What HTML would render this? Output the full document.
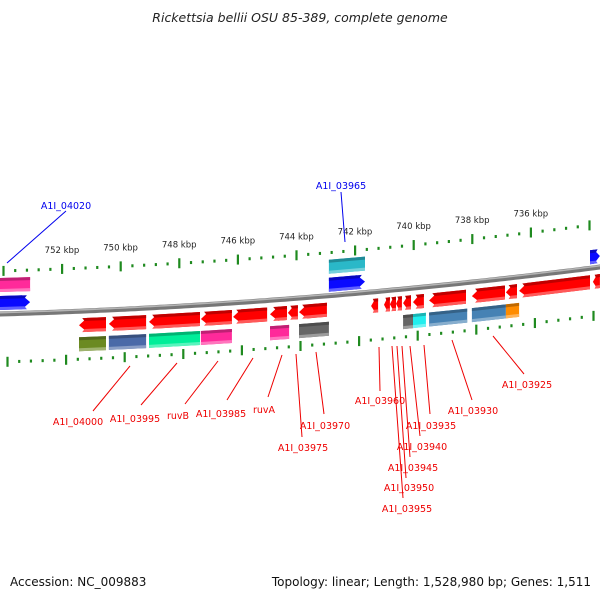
<!DOCTYPE html>
<html><head><meta charset="utf-8"><style>
body{margin:0;background:#fff}
svg{display:block}
text{font-family:"DejaVu Sans","Liberation Sans",sans-serif}
</style></head><body>
<svg id="map" width="600" height="600" viewBox="0 0 600 600">
<text x="300" y="22" text-anchor="middle" font-size="12.5" font-style="italic" fill="#222">Rickettsia bellii OSU 85-389, complete genome</text>
<text x="10" y="586" font-size="12" fill="#111">Accession: NC_009883</text>
<text x="591" y="586" text-anchor="end" font-size="12" fill="#111">Topology: linear; Length: 1,528,980 bp; Genes: 1,511</text>
<g id="g"></g>
</svg>
<script>
// kbp tick labels
const tickKbp = [754,752,750,748,746,744,742,740,738,736,734];
// genes: start kbp, end kbp, strand (1 forward, -1 reverse), row, colour
const geneStart = [754.12,754.12,742.89,742.89,733.98,
 751.42,750.40,749.03,747.26,746.16,744.90,744.29,743.91,741.45,741.01,740.81,740.60,740.36,740.02,739.47,738.01,736.85,736.40,733.88,
 751.42,750.40,749.03,747.26,744.90,743.91,740.36,740.02,739.47,738.01,736.85];
const geneEnd = [753.09,753.09,741.66,741.66,733.64,
 750.50,749.13,747.29,746.20,745.00,744.32,743.95,742.96,741.21,740.81,740.60,740.40,740.09,739.65,738.21,736.88,736.47,733.98,733.64,
 750.50,749.13,747.29,746.20,744.25,742.89,740.02,739.58,738.17,736.85,736.40];
const geneStrand = [0,1,0,1,1, -1,-1,-1,-1,-1,-1,-1,-1,-1,-1,-1,-1,-1,-1,-1,-1,-1,-1,-1, 0,0,0,0,0,0,0,0,0,0,0];
const geneRow = [-2,-1,-2,-1,-1, 1,1,1,1,1,1,1,1,1,1,1,1,1,1,1,1,1,1,1, 2,2,2,2,2,2,2,2,2,2,2];
const geneColor = ["#ff2a9a","#0a0aff","#2ab8c8","#0a0aff","#0a0aff",
 "#ff0000","#ff0000","#ff0000","#ff0000","#ff0000","#ff0000","#ff0000","#ff0000","#ff0000","#ff0000","#ff0000","#ff0000","#ff0000","#ff0000","#ff0000","#ff0000","#ff0000","#ff0000","#ff0000",
 "#6b8a22","#4a6aa8","#00ee99","#ff2a9a","#ff2a9a","#666666","#666666","#22eeee","#4682b4","#4682b4","#ff8c00"];
// labels
const labelText = ["A1I_04020","A1I_03965","A1I_04000","A1I_03995","ruvB","A1I_03985","ruvA","A1I_03975","A1I_03970","A1I_03960","A1I_03935","A1I_03940","A1I_03945","A1I_03950","A1I_03955","A1I_03930","A1I_03925"];

const g=document.getElementById('g');
const NS='http://www.w3.org/2000/svg';
function X(k){return 62+(752-k)*29.3;}
function curve(x){return 314-0.0283*x-0.0000833*x*x;}
function el(t,a){const e=document.createElementNS(NS,t);for(const k in a)e.setAttribute(k,a[k]);g.appendChild(e);return e;}
function shade(c,f){const n=parseInt(c.slice(1),16);let r=n>>16,gg=(n>>8)&255,b=n&255;
 const m=v=>Math.max(0,Math.min(255,Math.round(f<1?v*f:v+(255-v)*(f-1))));return `rgb(${m(r)},${m(gg)},${m(b)})`;}

let p='';for(let x=-5;x<=605;x+=5)p+=(x<0?'M':'L')+x+','+curve(x).toFixed(1)+' ';
const bb=el('path',{d:p,stroke:'#777','stroke-width':5,fill:'none'});

const bb2=el('path',{d:p,stroke:'#b5b5b5','stroke-width':1.5,fill:'none',transform:'translate(0,-1.3)'});


[-43,48].forEach((off,ri)=>{
 for(let i=0;i<70;i++){const k=756-i*0.4;const x=X(k)+(ri?4:0);if(x<-2||x>602)continue;
  const major=Math.abs(k-Math.round(k/2)*2)<0.01;
  const y=curve(x)+off;
  const t=el('rect',{x:x-1,y:major?y-5:y-1.5,width:2.2,height:major?10:3,fill:'#1f8a1f'});
  
 }});
tickKbp.forEach(k=>{const x=X(k);if(x<30||x>580)return;
 const t=el('text',{x:x,y:curve(x)-59,'text-anchor':'middle','font-size':8.5,fill:'#222'});t.textContent=k+' kbp';
 });

const rowOff={'-2':[-36,-22],'-1':[-18,-4],'1':[7,21],'2':[26,40]};
for(let i=0;i<geneStart.length;i++){
 const x1=X(geneStart[i]),x2=X(geneEnd[i]);const [a,b]=rowOff[geneRow[i]];const s=geneStrand[i];
 const L=Math.min(x1,x2),R=Math.max(x1,x2);const h=Math.min(8,(R-L)*0.6);
 const pt=(x,o)=>x.toFixed(1)+','+(curve(x)+o).toFixed(1);
 const m=(a+b)/2;let pts;
 if(s===1)pts=[pt(L,a),pt(R-h,a),pt(R,m),pt(R-h,b),pt(L,b)];
 else if(s===-1)pts=[pt(L,m),pt(L+h,a),pt(R,a),pt(R,b),pt(L+h,b)];
 else pts=[pt(L,a),pt(R,a),pt(R,b),pt(L,b)];
 const c=geneColor[i];
 const e=el('polygon',{points:pts.join(' '),fill:c});
 
 const top=el('polygon',{points:[pt(L+(s===-1?h*0.4:0),a),pt(R-(s===1?h*0.4:0),a),pt(R-(s===1?h*0.7:0),a+3),pt(L+(s===-1?h*0.7:0),a+3)].join(' '),fill:shade(c,0.75)});
 
 const bot=el('polygon',{points:[pt(L+(s===-1?h*0.7:0),b-3),pt(R-(s===1?h*0.7:0),b-3),pt(R-(s===1?h*0.4:0),b),pt(L+(s===-1?h*0.4:0),b)].join(' '),fill:shade(c,1.35)});
 
}

const labelColor=["blue","blue","red","red","red","red","red","red","red","red","red","red","red","red","red","red","red"];
const lab=[[66,209,7,263,66,211],[341,189,345,242,341,192],[78,425,130,366,93,411],[135,422,177,363,141,405],[178,419,218,361,185,404],[221,417,253,358,227,400],[264,413,282,355,268,397],[303,451,296,354,302,437],[325,429,316,352,324,414],[380,404,379,347,380,391],[431,429,424,345,430,414],[422,450,410,346,420,436],[413,471,402,346,410,457],[409,491,397,346,406,478],[407,512,392,346,403,498],[473,414,452,340,472,400],[527,388,493,336,524,374]];
labelText.forEach((t,i)=>{const [tx,ty,lx1,ly1,lx2,ly2]=lab[i];const col=labelColor[i]==='blue'?'#0000ee':'#ee0000';
 const l=el('line',{x1:lx1,y1:ly1,x2:lx2,y2:ly2,stroke:col,'stroke-width':1});
 
 const e=el('text',{x:tx,y:ty,'text-anchor':'middle','font-size':9.5,fill:col});e.textContent=t;
 });
</script>
</body></html>
